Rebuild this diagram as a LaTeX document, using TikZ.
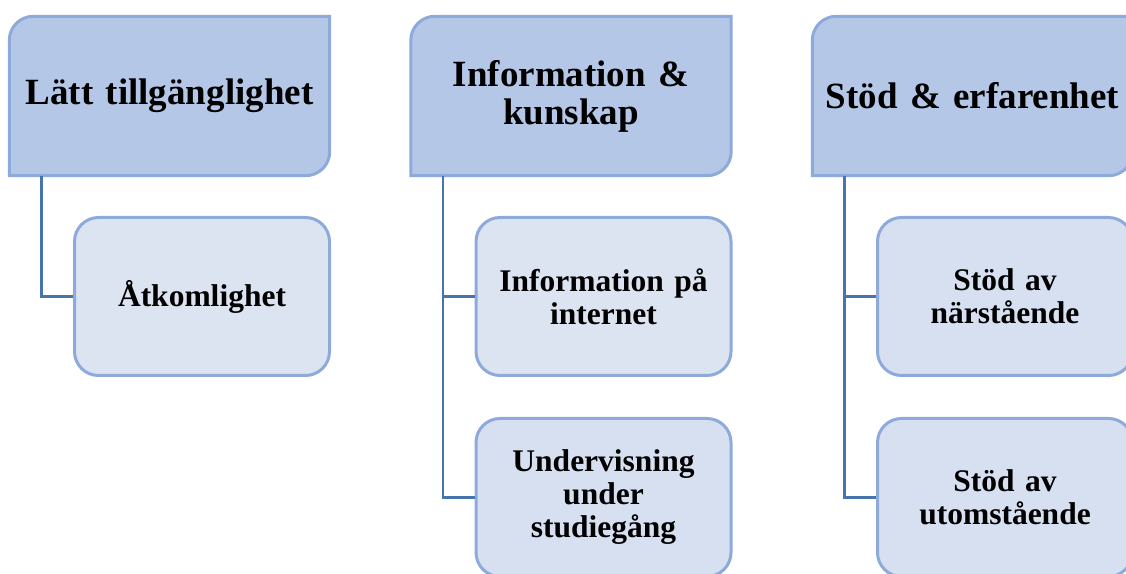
\documentclass[tikz,border=0pt]{standalone}
\usepackage{fontspec}
\setmainfont{Liberation Serif}
\usetikzlibrary{backgrounds}

\definecolor{headfill}{HTML}{B4C7E7}
\definecolor{boxline}{HTML}{8EAADB}
\definecolor{itemfill}{HTML}{DCE4F2}
\definecolor{itemfilltwo}{HTML}{D6E0F1}
\definecolor{linkblue}{HTML}{4674AC}

\tikzset{
  head/.style={minimum width=320pt, minimum height=159pt, inner sep=0pt, text width=310pt, align=center, font=\fontsize{37}{38}\selectfont\bfseries},
  headshape/.style={draw=boxline, line width=3pt, fill=headfill},
  item/.style={draw=boxline, line width=3pt, fill=itemfill, rounded corners=24pt, minimum width=255pt, minimum height=158pt, inner sep=0pt, text width=240pt, align=center, font=\fontsize{31.5}{33}\selectfont\bfseries},
  link/.style={draw=linkblue, line width=2.5pt},
}

% header box: rounded top left and bottom right only
\newcommand{\headbox}[1]{%
  \path[headshape] (#1.south west) -- ([yshift=-24pt]#1.north west)
    arc[start angle=180, end angle=90, radius=24pt] -- (#1.north east)
    -- ([yshift=24pt]#1.south east)
    arc[start angle=0, end angle=-90, radius=24pt] -- cycle;}

\begin{document}
\begin{tikzpicture}[x=1pt, y=1pt]
    \useasboundingbox (0,0) rectangle (1126,573);
    \clip (0,0) rectangle (1126,573);
    % Headers
    \node[head] (access) at (169.5,477) {Lätt tillgänglighet};
    \node[head] (info) at (571,477) {Information \&\\kunskap};
    \node[head] (support) at (972.5,477) {Stöd \& erfarenhet};
    \begin{pgfonlayer}{background}
        \clip (0,0) rectangle (1126,573);
        \headbox{access}
        \headbox{info}
        \headbox{support}
    \end{pgfonlayer}
    % Items
    \node[item] (reach) at (202,276.5) {Åtkomlighet};
    \node[item] (web) at (603.5,276.5) {Information på\\internet};
    \node[item, fill=itemfilltwo] (teaching) at (603.5,75.5) {Undervisning\\under\\studiegång};
    \node[item, fill=itemfilltwo] (close) at (1005,276.5) {Stöd av\\närstående};
    \node[item, fill=itemfilltwo] (outside) at (1005,75.5) {Stöd av\\utomstående};
    % Links
    \draw[link] ([xshift=32pt]access.south west) |- (reach.west);
    \draw[link] ([xshift=32pt]info.south west) |- (web.west);
    \draw[link] ([xshift=32pt]info.south west) |- (teaching.west);
    \draw[link] ([xshift=32pt]support.south west) |- (close.west);
    \draw[link] ([xshift=32pt]support.south west) |- (outside.west);
\end{tikzpicture}
\end{document}
